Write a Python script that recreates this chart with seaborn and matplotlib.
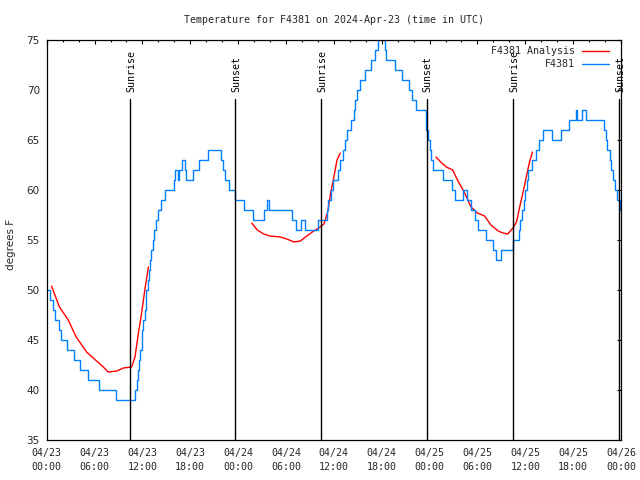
import numpy as np
import pandas as pd
import matplotlib
matplotlib.use("Agg")
import matplotlib.pyplot as plt
from matplotlib.lines import Line2D
from matplotlib.ticker import FixedLocator, MultipleLocator
import seaborn as sns

# ---------------- data ----------------
obs_hours = [0.0, 0.4, 0.8, 1.1, 1.5, 1.8, 2.6, 3.4, 4.2, 5.2, 6.6, 8.7, 11.1, 11.3, 11.5, 11.6,
             11.7, 11.9, 12.0, 12.1, 12.3, 12.4, 12.5, 12.7, 12.8, 12.9, 13.1, 13.3, 13.5, 13.7,
             13.9, 14.3, 14.8, 15.9, 16.1, 16.4, 16.6, 17.0, 17.3, 17.5, 18.4, 19.1, 20.2, 21.8,
             22.1, 22.4, 22.8, 23.6, 24.7, 25.9, 27.2, 27.6, 27.9, 30.7, 31.2, 31.9, 32.4, 34.0,
             35.1, 35.3, 35.6, 35.9, 36.5, 36.8, 37.1, 37.4, 37.6, 38.2, 38.5, 38.7, 38.9, 39.3,
             39.9, 40.7, 41.2, 41.5, 41.7, 42.2, 42.4, 42.6, 43.7, 44.5, 45.4, 45.8, 46.3, 47.6,
             47.8, 48.0, 48.2, 48.4, 49.7, 50.8, 51.2, 52.2, 52.7, 53.2, 53.7, 54.1, 55.1, 56.0,
             56.3, 57.0, 58.5, 59.2, 59.4, 59.6, 59.8, 60.0, 60.2, 60.4, 60.8, 61.3, 61.7, 62.2,
             63.3, 64.5, 65.5, 66.3, 66.5, 67.1, 67.6, 69.9, 70.1, 70.3, 70.6, 70.8, 71.0, 71.3,
             71.5, 71.9, 72.0]
obs_temps = [50, 49, 48, 47, 46, 45, 44, 43, 42, 41, 40, 39, 40, 41, 42, 43,
             44, 45, 46, 47, 48, 49, 50, 51, 52, 53, 54, 55, 56, 57,
             58, 59, 60, 61, 62, 61, 62, 63, 62, 61, 62, 63, 64, 63,
             62, 61, 60, 59, 58, 57, 58, 59, 58, 57, 56, 57, 56, 57,
             58, 59, 60, 61, 62, 63, 64, 65, 66, 67, 68, 69, 70, 71,
             72, 73, 74, 75, 76, 75, 74, 73, 72, 71, 70, 69, 68, 66,
             65, 64, 63, 62, 61, 60, 59, 60, 59, 58, 57, 56, 55, 54,
             53, 54, 55, 56, 57, 58, 59, 60, 61, 62, 63, 64, 65, 66,
             65, 66, 67, 68, 67, 68, 67, 66, 65, 64, 63, 62, 61, 60,
             59, 58, 58]

ana1_hours = [0.6, 1.6, 2.7, 3.7, 5.0, 6.25, 7.1, 7.7, 8.8, 9.6, 10.65, 11.07, 11.5, 11.9, 12.3, 12.75]
ana1_temps = [50.4, 48.3, 47.0, 45.3, 43.8, 42.9, 42.3, 41.8, 41.9, 42.2, 42.3, 43.3, 45.7, 47.7, 50.0, 52.3]
ana2_hours = [25.7, 26.4, 27.2, 28.0, 29.3, 30.1, 31.0, 31.8, 32.45, 33.3, 34.1, 34.75, 35.2, 35.6, 36.0, 36.4, 36.8]
ana2_temps = [56.7, 56.0, 55.6, 55.4, 55.3, 55.1, 54.8, 54.9, 55.3, 55.8, 56.2, 56.6, 57.7, 59.7, 61.3, 63.0, 63.7]
ana3_hours = [48.8, 49.4, 50.1, 50.9, 51.5, 52.4, 53.2, 54.0, 54.9, 55.7, 56.6, 57.2, 57.8, 58.45, 58.9, 59.3,
              59.7, 60.1, 60.5, 60.9]
ana3_temps = [63.3, 62.8, 62.3, 62.0, 61.0, 59.7, 58.3, 57.7, 57.4, 56.5, 55.9, 55.7, 55.6, 56.2, 56.8, 58.3,
              59.7, 61.2, 62.7, 63.8]

sunrise_hours = [10.44, 34.43, 58.48]
sunset_hours = [23.66, 47.62, 71.75]

xtick_hours = [0, 6, 12, 18, 24, 30, 36, 42, 48, 54, 60, 66, 72]
xtick_labels = ["04/23\n00:00", "04/23\n06:00", "04/23\n12:00", "04/23\n18:00",
                "04/24\n00:00", "04/24\n06:00", "04/24\n12:00", "04/24\n18:00",
                "04/25\n00:00", "04/25\n06:00", "04/25\n12:00", "04/25\n18:00",
                "04/26\n00:00"]

title = "Temperature for F4381 on 2024-Apr-23 (time in UTC)"
ylabel = "degrees F"
obs_name = "F4381"
ana_name = "F4381 Analysis"

# ---------------- style ----------------
sns.set_style("white")
plt.rcParams['font.family'] = ['DejaVu Sans Mono', 'DejaVu Sans']
FS = 7.2
RED = "#ff0000"
BLUE = "#0080ff"

fig = plt.figure(figsize=(6.4, 4.8), dpi=100)
ax = fig.add_axes([46.7 / 640, 1 - 440 / 480, (621 - 46.7) / 640, 400 / 480])

ana_df = pd.DataFrame({
    "hour": ana1_hours + ana2_hours + ana3_hours,
    "temp": ana1_temps + ana2_temps + ana3_temps,
    "seg": [1] * len(ana1_hours) + [2] * len(ana2_hours) + [3] * len(ana3_hours),
})
obs_df = pd.DataFrame({"hour": obs_hours, "temp": obs_temps})

sns.lineplot(data=ana_df, x="hour", y="temp", units="seg", estimator=None,
             color=RED, lw=1.0, ax=ax, legend=False)
sns.lineplot(data=obs_df, x="hour", y="temp", estimator=None, sort=False,
             color=BLUE, lw=1.0, drawstyle="steps-post", ax=ax, legend=False)

ax.set_xlim(0, 72)
ax.set_ylim(35, 75)

# sunrise / sunset markers
for hrs, name in ((sunrise_hours, "Sunrise"), (sunset_hours, "Sunset")):
    for h in hrs:
        ax.plot([h, h], [35, 69.1], color="black", lw=1.0, zorder=5)
        ax.text(h + 0.15, 69.8, name, rotation=90, ha="center", va="bottom",
                fontsize=FS, color="black")

# axes / ticks
for s in ax.spines.values():
    s.set_visible(True)
    s.set_color("black")
    s.set_linewidth(0.9)
ax.xaxis.set_major_locator(FixedLocator(xtick_hours))
ax.set_xticklabels(xtick_labels)
ax.xaxis.set_minor_locator(MultipleLocator(2))
ax.yaxis.set_major_locator(MultipleLocator(5))
ax.tick_params(axis="both", which="both", direction="in", top=True, right=True,
               color="black", width=0.8)
ax.tick_params(axis="both", which="major", length=3.0)
ax.tick_params(axis="x", which="minor", length=1.5)
ax.tick_params(axis="x", which="major", labelsize=FS, pad=6)
ax.tick_params(axis="y", which="major", labelsize=FS + 0.3, pad=5)
for lab in ax.get_xticklabels():
    lab.set_linespacing(1.5)
for lab in ax.get_yticklabels():
    lab.set_family("DejaVu Sans")

ax.set_xlabel("")
ax.set_ylabel(ylabel, fontsize=FS + 0.3, family="DejaVu Sans")
ax.yaxis.set_label_coords(-(46.7 - 16) / (621 - 46.7), 0.49)

fig.text(334 / 640, 1 - 20 / 480, title, ha="center", va="center", fontsize=FS)

handles = [Line2D([0], [0], color=RED, lw=1.0), Line2D([0], [0], color=BLUE, lw=1.0)]
leg = ax.legend(handles, [ana_name, obs_name], loc="upper right",
                bbox_to_anchor=(609 / 640, 1 - 46 / 480), bbox_transform=fig.transFigure,
                frameon=False, markerfirst=False, fontsize=FS, handlelength=2.7,
                handletextpad=0.7, labelspacing=0.32, borderpad=0, borderaxespad=0)

fig.savefig("out.png", dpi=100)
